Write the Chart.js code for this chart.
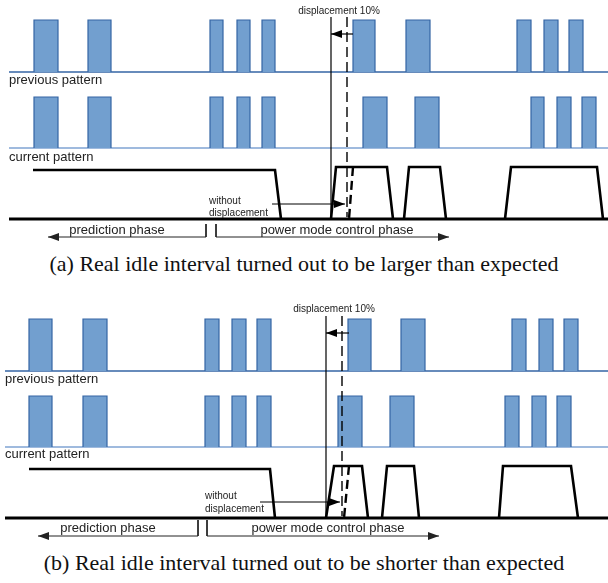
<!DOCTYPE html>
<html>
<head>
<meta charset="utf-8">
<script src="https://cdn.jsdelivr.net/npm/chart.js@4.4.1/dist/chart.umd.min.js"></script>
<style>
  body { margin: 0; background: #fff; width: 608px; height: 583px; position: relative; overflow: hidden; }
  canvas { position: absolute; left: 0; }
  #chartA { top: 0; }
  #chartB { top: 299px; }
  .caption { position: absolute; left: 0; width: 608px; text-align: center; line-height: 24px;
             font-family: "Liberation Serif", "Times New Roman", serif; font-size: 22px; color: #111; }
</style>
</head>
<body>
<canvas id="chartA" width="608" height="250"></canvas>
<canvas id="chartB" width="608" height="250"></canvas>
<div class="caption" style="top:252px">(a) Real idle interval turned out to be larger than expected</div>
<div class="caption" style="top:551px">(b) Real idle interval turned out to be shorter than expected</div>
<script>
// pulses of the previous / current pattern, start and end times
const prevStartA = [34, 88, 210, 237, 262, 353, 406, 517, 544, 569];
const prevEndA   = [58, 111, 223, 250, 275, 375, 430, 531, 558, 583];
const curStartA  = [34, 88, 210, 237, 262, 363, 415, 531, 557, 582];
const curEndA    = [58, 111, 223, 250, 275, 387, 439, 544, 571, 596];

const prevStartB = [29, 83, 205, 232, 257, 348, 401, 512, 539, 564];
const prevEndB   = [52, 107, 219, 246, 271, 371, 425, 526, 553, 578];
const curStartB  = [29, 83, 205, 232, 257, 338, 390, 505, 532, 557];
const curEndB    = [52, 107, 219, 246, 271, 362, 414, 519, 546, 571];

// levels (value axis runs downwards)
const prevTop = 20, prevBase = 72, curTop = 97, curBase = 148;
const idleHigh = 170, modeHigh = 167, modeLow = 219;

// power mode curve: corner times of each segment
const powerXA = [[33, 275, 281], [331, 336, 387, 393], [404, 409, 440, 446], [505, 511, 597, 603]];
const powerXB = [[29, 270, 275], [326, 334, 362, 368], [382, 387, 414, 419], [499, 503, 571, 578]];

// markers: real start, start without displacement
const markA = { start: 9, solid: 331, dashed: 347, edge: [353, 349], disp: [353, 331], without: [272, 345, 204],
                predict: [48, 206], power: [216, 449], brTop: 224 };
const markB = { start: 5, solid: 326, dashed: 342, edge: [349, 344], disp: [349, 326], without: [260, 340, 203],
                predict: [38, 198], power: [207, 439], brTop: 221 };

const labelsA = [
  { text: 'displacement 10%', x: 339, y: 11, size: 10, align: 'center' },
  { text: 'previous pattern', x: 9, y: 80, size: 13, align: 'left' },
  { text: 'current pattern', x: 9, y: 157, size: 13, align: 'left' },
  { text: 'without', x: 209, y: 201, size: 10, align: 'left' },
  { text: 'displacement', x: 209, y: 213, size: 10, align: 'left' },
  { text: 'prediction phase', x: 117, y: 230, size: 13, align: 'center' },
  { text: 'power mode control phase', x: 337, y: 230, size: 13, align: 'center' }
];
const labelsB = [
  { text: 'displacement 10%', x: 334, y: 10, size: 10, align: 'center' },
  { text: 'previous pattern', x: 5, y: 80, size: 13, align: 'left' },
  { text: 'current pattern', x: 5, y: 155, size: 13, align: 'left' },
  { text: 'without', x: 205, y: 197, size: 10, align: 'left' },
  { text: 'displacement', x: 205, y: 210, size: 10, align: 'left' },
  { text: 'prediction phase', x: 108, y: 229, size: 13, align: 'center' },
  { text: 'power mode control phase', x: 328, y: 229, size: 13, align: 'center' }
];

const barFill = '#729fcf';
const barLine = '#3465a4';

function line(points, extra) {
  return Object.assign({
    data: points.map(p => ({ x: p[0], y: p[1] })),
    borderColor: '#000',
    borderWidth: 1,
    pointRadius: 0,
    fill: false,
    showLine: true,
    tension: 0
  }, extra || {});
}

function pulses(starts, ends, top, base) {
  return starts.map((s, i) => line([[s, base], [s, top], [ends[i], top], [ends[i], base]], {
    borderColor: barLine, borderWidth: 1.2, backgroundColor: barFill, fill: { value: base }
  }));
}

function buildDatasets(prevS, prevE, curS, curE, powerX, m) {
  const ds = [];
  ds.push(line([[m.start, prevBase], [608, prevBase]], { borderColor: barLine, borderWidth: 1.5 }));
  ds.push(line([[m.start, curBase], [608, curBase]], { borderColor: '#7fa3d3', borderWidth: 1.5 }));
  ds.push(...pulses(prevS, prevE, prevTop, prevBase));
  ds.push(...pulses(curS, curE, curTop, curBase));
  // power mode curve
  powerX.forEach((xs, i) => {
    const ys = i === 0 ? [idleHigh, idleHigh, modeLow] : [modeLow, modeHigh, modeHigh, modeLow];
    ds.push(line(xs.map((x, k) => [x, ys[k]]), { borderWidth: 2.6 }));
  });
  ds.push(line([[m.start, modeLow], [608, modeLow]], { borderWidth: 3 }));
  // real start and start without displacement
  ds.push(line([[m.solid, 17], [m.solid, modeLow]], { borderWidth: 1.2 }));
  ds.push(line([[m.dashed, 17], [m.dashed, modeLow - 2]], { borderWidth: 1.4, borderDash: [10, 5] }));
  ds.push(line([[m.edge[0], modeHigh], [m.edge[1], modeLow]], { borderWidth: 2.4, borderDash: [9, 5] }));
  ds.push(line([[m.disp[0], 34], [m.disp[1], 34]], { borderWidth: 1.2, arrow: true }));
  ds.push(line([[m.without[0], m.without[2]], [m.without[1], m.without[2]]], { borderWidth: 1, arrow: true }));
  // phase brackets
  ds.push(line([[m.predict[1], m.brTop], [m.predict[1], 237], [m.predict[0], 237]], { borderWidth: 1, borderColor: '#222', arrow: true }));
  ds.push(line([[m.power[0], m.brTop], [m.power[0], 237], [m.power[1], 237]], { borderWidth: 1, borderColor: '#222', arrow: true }));
  return ds.reverse();
}

const arrowPlugin = {
  id: 'arrowHeads',
  afterDatasetsDraw(chart) {
    const ctx = chart.ctx;
    chart.data.datasets.forEach((ds, i) => {
      if (!ds.arrow) return;
      const pts = chart.getDatasetMeta(i).data;
      const a = pts[pts.length - 2], b = pts[pts.length - 1];
      const ang = Math.atan2(b.y - a.y, b.x - a.x);
      ctx.save();
      ctx.translate(b.x, b.y);
      ctx.rotate(ang);
      ctx.fillStyle = ds.borderColor;
      ctx.beginPath();
      ctx.moveTo(0, 0);
      ctx.lineTo(-11, -4);
      ctx.lineTo(-11, 4);
      ctx.closePath();
      ctx.fill();
      ctx.restore();
    });
  }
};

const textPlugin = {
  id: 'diagramText',
  afterDraw(chart, args, opts) {
    const ctx = chart.ctx;
    const xs = chart.scales.x, ys = chart.scales.y;
    ctx.save();
    ctx.fillStyle = '#222';
    ctx.textBaseline = 'middle';
    opts.labels.forEach(l => {
      ctx.font = l.size + 'px "Liberation Sans", Arial, sans-serif';
      ctx.textAlign = l.align;
      ctx.fillText(l.text, xs.getPixelForValue(l.x), ys.getPixelForValue(l.y));
    });
    ctx.restore();
  }
};

function makeChart(id, datasets, labels) {
  return new Chart(document.getElementById(id), {
    type: 'scatter',
    data: { datasets: datasets },
    options: {
      responsive: false,
      animation: false,
      devicePixelRatio: 1,
      layout: { padding: 0 },
      scales: {
        x: { type: 'linear', min: 0, max: 608, display: false },
        y: { type: 'linear', min: 0, max: 250, reverse: true, display: false }
      },
      plugins: {
        legend: { display: false },
        tooltip: { enabled: false },
        diagramText: { labels: labels }
      }
    },
    plugins: [arrowPlugin, textPlugin]
  });
}

makeChart('chartA', buildDatasets(prevStartA, prevEndA, curStartA, curEndA, powerXA, markA), labelsA);
makeChart('chartB', buildDatasets(prevStartB, prevEndB, curStartB, curEndB, powerXB, markB), labelsB);
</script>
</body>
</html>
